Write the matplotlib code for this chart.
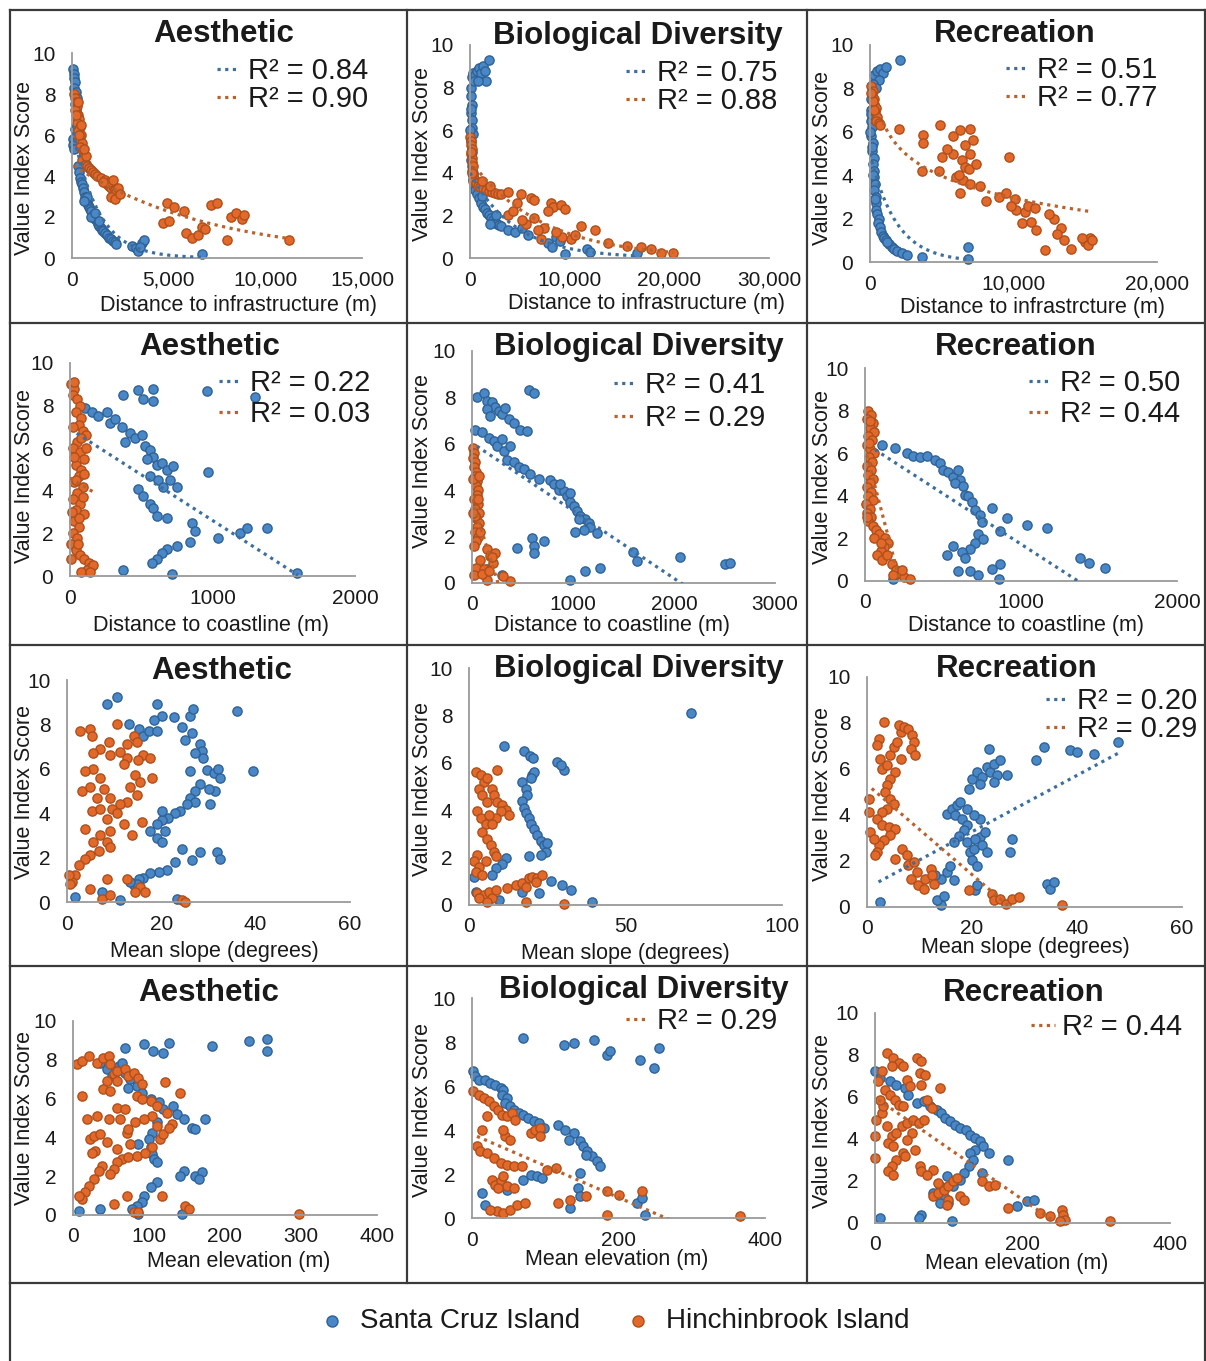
import numpy as np
import matplotlib
matplotlib.use("Agg")
import matplotlib.pyplot as plt
from matplotlib.lines import Line2D
from matplotlib.ticker import FuncFormatter

plt.rcParams['font.family'] = ['Liberation Sans', 'DejaVu Sans']

W, H = 1206, 1361

# (x, y) points; sc = Santa Cruz Island, hi = Hinchinbrook Island
# ---- row 1: distance to infrastructure (m)
aes_infra_sc = [(50, 9.2), (80, 9.0), (120, 8.8), (150, 8.6), (100, 8.3), (200, 8.1), (250, 7.8), (180, 7.5),
                (220, 7.2), (260, 7.0), (300, 6.7), (150, 6.3), (60, 5.8), (30, 5.5), (100, 5.3), (200, 6.0),
                (250, 6.5), (300, 4.5), (350, 4.2), (400, 3.9), (450, 3.7), (500, 3.6), (550, 3.4), (600, 3.2),
                (650, 3.0), (700, 2.9), (750, 2.8), (800, 2.7), (850, 2.6), (900, 2.5), (950, 2.4), (1000, 2.3),
                (1100, 2.1), (1150, 2.0), (1200, 1.9), (1300, 1.8), (1350, 1.65), (1400, 1.55), (1500, 1.45),
                (1550, 1.35), (1600, 1.3), (1700, 1.2), (1800, 1.1), (1900, 1.0), (2000, 0.95), (2100, 0.85),
                (2200, 0.8), (2250, 0.7), (1000, 2.0), (1200, 2.2), (800, 3.0), (600, 2.8), (1400, 1.8),
                (3100, 0.6), (3300, 0.5), (3400, 0.35), (3600, 0.75), (3700, 0.9), (3500, 0.55), (6700, 0.2)]
aes_infra_hi = [(100, 8.0), (150, 7.8), (200, 7.6), (250, 7.4), (180, 7.2), (300, 7.0), (350, 6.8), (250, 6.6),
                (400, 6.4), (300, 6.2), (450, 6.0), (350, 5.8), (500, 5.6), (400, 5.4), (550, 5.2), (600, 5.0),
                (500, 4.8), (700, 4.6), (800, 4.5), (900, 4.4), (1000, 4.3), (1100, 4.2), (1200, 4.1), (1300, 4.0),
                (700, 5.0), (600, 5.3), (200, 7.0), (350, 6.0), (450, 6.5), (300, 7.6), (1500, 3.9), (1700, 3.8),
                (1800, 3.6), (1900, 3.5), (2000, 3.4), (2100, 3.5), (2200, 3.3), (2300, 3.2), (2400, 3.4),
                (2000, 3.0), (2200, 2.9), (1900, 3.7), (2500, 3.1), (1600, 3.7), (2100, 3.8),
                (4900, 2.7), (5300, 2.5), (5800, 2.3), (4700, 1.7), (5000, 1.8), (5900, 1.2), (6200, 1.0),
                (6500, 1.1), (6700, 1.5), (6900, 1.4), (7200, 2.6), (7500, 2.7), (8000, 0.9), (8200, 2.0),
                (8500, 2.2), (8800, 1.9), (8900, 2.1), (11200, 0.9)]
bio_infra_sc = [(100, 8.0), (150, 7.6), (200, 7.2), (120, 6.8), (250, 6.5), (180, 6.1), (300, 5.8), (100, 5.5),
                (200, 5.0), (150, 4.6), (250, 4.3), (300, 4.0), (350, 3.7), (400, 3.4), (500, 3.2), (50, 6.0),
                (80, 7.0), (200, 8.5), (300, 8.7), (500, 8.6), (700, 8.8), (900, 8.9), (1100, 8.7), (1300, 9.0),
                (1500, 8.8), (1600, 8.3), (1900, 9.3), (400, 8.3), (800, 8.3), (700, 3.0), (900, 2.8), (1100, 2.6),
                (1300, 2.4), (1500, 2.3), (1700, 2.1), (1900, 2.0), (2100, 1.9), (2300, 1.8), (2500, 1.7),
                (2700, 1.6), (2900, 1.55), (3100, 1.5), (2000, 1.6), (2600, 2.0), (1200, 2.9), (3800, 1.3),
                (4500, 1.2), (5200, 1.4), (5800, 1.1), (7800, 0.7), (8200, 0.5), (8600, 1.0), (9000, 0.8),
                (9500, 0.2), (11700, 0.4), (12000, 0.3), (16800, 0.25)]
bio_infra_hi = [(50, 5.7), (100, 5.5), (150, 5.3), (200, 5.1), (120, 4.9), (250, 4.7), (180, 4.5), (300, 4.3),
                (220, 4.1), (350, 3.9), (400, 3.7), (300, 3.6), (80, 5.0), (200, 4.0), (600, 3.5), (800, 3.4),
                (1000, 3.35), (1300, 3.3), (1600, 3.2), (1900, 3.15), (2200, 3.1), (2500, 3.05), (2800, 3.0),
                (3100, 3.0), (1200, 3.6), (2000, 3.4), (3800, 3.1), (4700, 2.6), (5100, 3.0), (6100, 2.8),
                (6400, 2.7), (3800, 2.0), (5600, 1.6), (6400, 1.9), (7400, 1.4), (7100, 0.9), (8100, 2.6),
                (8300, 2.4), (9100, 2.5), (9500, 2.3), (9200, 1.0), (10100, 0.9), (11100, 1.5), (12500, 1.3),
                (13800, 0.7), (15800, 0.55), (17200, 0.5), (18200, 0.4), (19200, 0.25), (20400, 0.25),
                (4300, 2.2), (6800, 1.3), (8600, 1.2), (10500, 1.1), (7800, 2.2), (5200, 1.8)]
rec_infra_sc = [(300, 8.6), (500, 8.8), (700, 8.9), (900, 8.7), (1100, 9.0), (600, 8.4), (200, 8.2), (2100, 9.3),
                (400, 8.0), (50, 7.5), (100, 7.0), (80, 6.5), (150, 6.2), (100, 5.8), (200, 5.5), (150, 5.1),
                (250, 4.8), (200, 4.5), (300, 4.2), (250, 3.9), (350, 3.6), (300, 3.3), (400, 3.0), (450, 2.7),
                (400, 2.4), (500, 2.2), (600, 2.0), (550, 1.8), (700, 1.6), (50, 6.8), (120, 5.3), (220, 4.0),
                (350, 2.9), (0, 6.0), (800, 1.4), (900, 1.2), (1000, 1.1), (1100, 1.0), (1300, 0.85), (1500, 0.7),
                (1700, 0.6), (1900, 0.5), (2200, 0.4), (2600, 0.3), (1200, 0.9), (3600, 0.25), (6850, 0.7),
                (6850, 0.15)]
rec_infra_hi = [(100, 8.1), (200, 7.9), (150, 7.7), (300, 7.5), (250, 7.3), (400, 7.1), (350, 6.9), (500, 6.7),
                (450, 6.5), (600, 6.4), (700, 6.3), (200, 7.4), (300, 7.0), (50, 7.8), (2000, 6.15), (4900, 6.3),
                (3700, 5.85), (3700, 5.5), (3600, 4.2), (5000, 4.85), (5800, 5.8), (6300, 6.1), (7000, 6.15),
                (5800, 5.0), (6400, 4.7), (6600, 4.4), (6000, 3.9), (6500, 3.8), (7000, 3.6), (6300, 3.2),
                (6900, 4.3), (7000, 5.0), (7700, 3.5), (8100, 2.8), (9000, 3.0), (9500, 3.2), (9700, 4.85),
                (6600, 5.4), (5400, 5.2), (7200, 5.6), (6200, 4.0), (4800, 4.2), (7400, 4.5), (10100, 2.9),
                (10200, 2.4), (10600, 1.8), (10800, 2.3), (11000, 2.6), (11200, 1.85), (11600, 1.46),
                (12200, 0.55), (12800, 2.0), (13300, 1.55), (13500, 1.0), (14000, 0.6), (15000, 0.9),
                (15300, 1.1), (15200, 0.8), (15500, 1.0), (11500, 2.5), (12500, 2.2), (13000, 1.3),
                (14800, 1.1), (9800, 2.6)]

# ---- row 2: distance to coastline (m)
aes_coast_sc = [(374, 8.5), (480, 8.75), (515, 8.3), (585, 8.8), (585, 8.2), (960, 8.7), (1300, 8.4), (105, 7.9),
                (152, 7.7), (199, 7.5), (257, 7.7), (281, 7.2), (316, 7.35), (363, 7.0), (386, 6.3), (421, 6.7),
                (456, 6.5), (503, 6.6), (526, 6.1), (561, 5.9), (585, 5.6), (538, 5.5), (608, 5.2), (643, 5.3),
                (678, 5.0), (725, 5.15), (561, 4.7), (620, 4.5), (655, 4.2), (702, 4.5), (748, 4.2), (480, 4.1),
                (515, 3.75), (561, 3.4), (585, 3.2), (608, 2.8), (678, 2.7), (970, 4.9), (854, 2.5), (877, 2.1),
                (842, 1.6), (748, 1.4), (678, 1.25), (643, 1.1), (608, 0.8), (573, 0.6), (374, 0.3), (713, 0.1),
                (1040, 1.8), (1193, 2.0), (1240, 2.25), (1380, 2.25), (1590, 0.15)]
aes_coast_hi = [(10, 9.0), (30, 8.8), (20, 8.5), (50, 8.3), (70, 8.0), (40, 7.7), (80, 7.4), (60, 7.1), (90, 6.8),
                (110, 6.6), (50, 6.3), (20, 6.0), (70, 5.8), (100, 5.5), (40, 5.2), (80, 5.0), (60, 4.7), (30, 4.4),
                (90, 4.2), (50, 3.9), (20, 3.6), (70, 3.4), (40, 3.1), (100, 2.9), (30, 2.6), (60, 2.3), (20, 2.0),
                (50, 1.8), (10, 1.5), (40, 1.2), (70, 1.0), (100, 0.8), (130, 0.6), (150, 0.4), (120, 0.3),
                (160, 0.5), (80, 0.2), (10, 0.8), (30, 5.6), (90, 3.7), (60, 2.7), (110, 6.0), (20, 7.0),
                (40, 4.5), (75, 6.5), (100, 4.8), (15, 3.0), (55, 1.5), (140, 0.2), (25, 9.1)]
bio_coast_sc = [(49, 8.0), (115, 8.2), (148, 7.85), (198, 7.8), (231, 7.6), (264, 7.4), (297, 7.3), (330, 7.55),
                (363, 7.05), (412, 6.9), (478, 6.6), (544, 6.55), (560, 8.3), (610, 8.2), (148, 7.5), (181, 7.2),
                (33, 6.6), (99, 6.5), (165, 6.25), (214, 6.1), (247, 5.9), (313, 5.7), (346, 5.3), (412, 5.2),
                (462, 5.0), (511, 4.9), (577, 4.7), (659, 4.5), (775, 4.45), (808, 4.25), (857, 4.0), (907, 3.95),
                (940, 3.75), (972, 3.5), (1005, 3.3), (1039, 3.1), (1071, 2.9), (1121, 2.75), (1154, 2.6),
                (1170, 2.4), (1104, 2.3), (1022, 2.2), (1236, 2.15), (873, 4.25), (972, 3.9), (1055, 2.75),
                (297, 6.2), (379, 5.9), (445, 1.5), (593, 1.95), (610, 1.6), (610, 1.3), (709, 1.8), (972, 0.15),
                (1121, 0.5), (1269, 0.65), (1599, 1.35), (1632, 0.95), (2061, 1.1), (2506, 0.8), (2555, 0.85),
                (148, 0.6), (297, 0.35)]
bio_coast_hi = [(10, 5.8), (20, 5.6), (5, 5.4), (30, 5.2), (15, 5.0), (40, 4.8), (25, 4.6), (50, 4.4), (35, 4.2),
                (60, 4.0), (45, 3.8), (20, 3.6), (55, 3.4), (30, 3.2), (65, 3.0), (40, 2.8), (70, 2.6), (50, 2.4),
                (30, 2.2), (60, 2.0), (40, 1.8), (20, 1.6), (10, 4.5), (60, 3.6), (25, 2.9), (80, 2.2), (70, 4.6),
                (5, 3.0), (150, 1.45), (180, 1.15), (230, 1.3), (80, 1.0), (35, 0.65), (15, 0.35), (150, 0.15),
                (380, 0.07), (310, 0.3), (210, 0.85), (115, 0.6), (200, 1.1), (100, 0.4), (170, 0.5)]
rec_coast_sc = [(107, 6.4), (193, 6.25), (267, 6.0), (310, 5.85), (353, 5.8), (396, 5.85), (449, 5.7), (481, 5.55),
                (503, 5.2), (535, 5.1), (567, 4.9), (599, 5.2), (610, 4.75), (578, 4.6), (631, 4.45), (642, 4.05),
                (663, 4.0), (685, 3.7), (706, 3.35), (738, 3.1), (749, 2.75), (813, 3.45), (909, 2.95),
                (1037, 2.65), (1166, 2.5), (866, 2.35), (727, 2.2), (759, 1.95), (706, 1.8), (674, 1.5),
                (620, 1.35), (567, 1.65), (524, 1.2), (642, 1.1), (599, 0.47), (674, 0.47), (727, 0.3),
                (813, 0.55), (866, 0.8), (856, 0.08), (182, 0.08), (1380, 1.1), (1433, 0.86), (1540, 0.62)]
rec_coast_hi = [(20, 8.0), (40, 7.8), (10, 7.6), (50, 7.4), (30, 7.2), (60, 7.0), (20, 6.8), (45, 6.6), (10, 6.4),
                (35, 6.2), (55, 6.0), (25, 5.8), (45, 5.6), (15, 5.4), (40, 5.2), (20, 5.0), (50, 4.8), (30, 4.6),
                (10, 4.4), (40, 4.2), (20, 4.0), (50, 3.8), (5, 3.6), (30, 3.4), (10, 3.2), (40, 3.0), (20, 2.8),
                (50, 2.6), (70, 2.4), (90, 2.2), (130, 2.0), (150, 1.8), (120, 1.6), (100, 1.4), (80, 1.2),
                (110, 1.0), (140, 1.2), (170, 0.8), (200, 0.5), (230, 0.35), (250, 0.2), (290, 0.1), (240, 0.5),
                (180, 0.3), (60, 2.0), (25, 6.5), (15, 3.0), (35, 7.5), (100, 1.8)]

# ---- row 3: mean slope (degrees)
aes_slope_sc = [(8.5, 8.9), (10.6, 9.25), (13.1, 8.0), (15.2, 7.8), (16.2, 7.5), (17.3, 7.7), (19.1, 8.9),
                (20.1, 8.4), (18.4, 8.2), (19.1, 7.7), (22.6, 8.35), (24.4, 7.9), (25.1, 7.3), (26.1, 8.4),
                (26.8, 8.7), (26.5, 7.6), (28.2, 7.1), (28.6, 6.8), (28.9, 6.5), (27.2, 6.7), (26.1, 5.9),
                (29.6, 5.95), (31.1, 5.8), (32.1, 6.0), (32.5, 5.6), (31.4, 5.0), (30.0, 5.1), (28.2, 5.3),
                (27.2, 5.0), (26.1, 4.7), (27.2, 4.5), (25.4, 4.4), (24.0, 4.1), (22.9, 4.0), (21.5, 3.8),
                (20.1, 3.7), (19.1, 3.5), (17.6, 3.2), (19.1, 2.9), (20.1, 2.7), (20.8, 3.2), (20.1, 4.1),
                (30.4, 4.4), (36.0, 8.6), (39.5, 5.9), (31.8, 2.25), (32.5, 1.95), (28.2, 2.25), (26.5, 1.9),
                (24.4, 2.4), (22.9, 1.8), (21.2, 1.45), (19.4, 1.35), (17.6, 1.3), (16.2, 1.1), (15.2, 1.05),
                (14.1, 0.75), (14.8, 0.8), (13.4, 0.9), (23.3, 0.15), (11.3, 0.08), (7.4, 0.45), (1.8, 0.22)]
aes_slope_hi = [(2.8, 7.7), (4.9, 7.8), (5.3, 7.5), (8.8, 7.2), (10.6, 8.0), (7.1, 6.9), (5.6, 6.7), (9.2, 6.6),
                (11.3, 6.75), (12.7, 7.1), (14.1, 7.5), (14.8, 7.2), (16.2, 6.6), (17.6, 6.5), (18.0, 5.6),
                (15.0, 6.4), (12.7, 6.5), (12.0, 6.2), (14.5, 5.7), (13.4, 5.2), (15.5, 5.4), (14.8, 4.8),
                (12.7, 4.5), (11.3, 4.4), (9.5, 4.2), (8.5, 3.75), (10.6, 4.0), (12.0, 3.5), (9.2, 4.7),
                (7.8, 5.1), (7.1, 5.6), (5.6, 6.0), (3.9, 5.9), (3.2, 5.0), (4.9, 5.2), (6.4, 4.7), (5.3, 4.1),
                (7.1, 4.2), (3.9, 3.3), (5.6, 2.7), (7.1, 3.0), (8.5, 2.7), (9.2, 3.2), (13.8, 3.0), (15.9, 3.6),
                (9.2, 2.5), (6.7, 2.3), (4.9, 2.1), (3.9, 1.95), (2.5, 1.65), (1.8, 1.2), (1.1, 0.9), (0.4, 1.2),
                (8.5, 1.05), (12.7, 1.05), (4.9, 0.6), (7.4, 0.15), (9.2, 0.3), (15.5, 0.68), (16.6, 0.45),
                (14.5, 0.45), (24.4, 0.08), (25.1, 0.0), (0.7, 0.8)]
bio_slope_sc = [(70.8, 8.1), (11.2, 6.7), (17.6, 6.5), (19.5, 6.3), (20.5, 6.2), (28.2, 6.05), (30.3, 5.7),
                (29.3, 5.9), (17.0, 5.2), (18.1, 4.9), (18.6, 4.65), (20.2, 5.5), (20.7, 5.6), (19.7, 5.35),
                (17.0, 4.4), (17.6, 4.1), (18.1, 3.9), (19.2, 3.65), (19.7, 3.4), (20.7, 3.2), (21.8, 2.95),
                (22.9, 2.7), (23.9, 2.55), (24.5, 2.25), (22.9, 2.1), (25.0, 2.6), (19.2, 2.05), (11.7, 2.0),
                (10.6, 1.75), (8.5, 1.55), (7.4, 1.27), (1.6, 1.2), (2.1, 0.56), (9.6, 0.2), (17.0, 0.56),
                (22.3, 0.5), (26.1, 1.0), (29.8, 0.85), (32.5, 0.63), (39.4, 0.14)]
bio_slope_hi = [(2.1, 5.6), (3.7, 5.5), (4.8, 5.2), (3.2, 4.9), (4.3, 4.65), (5.9, 4.35), (2.7, 3.95), (3.7, 3.65),
                (5.3, 3.4), (4.3, 3.1), (5.9, 2.8), (6.9, 2.55), (8.0, 2.25), (8.5, 2.05), (2.7, 2.1), (1.6, 1.85),
                (3.2, 1.6), (2.1, 1.4), (4.3, 1.27), (5.3, 1.85), (9.0, 5.7), (7.4, 4.9), (8.0, 4.65), (9.0, 4.35),
                (10.6, 4.2), (11.7, 4.0), (12.8, 3.8), (10.1, 3.95), (8.5, 3.65), (7.4, 3.4), (6.4, 3.8),
                (5.9, 5.35), (2.7, 0.5), (4.8, 0.42), (6.4, 0.56), (7.4, 0.28), (8.5, 0.63), (12.2, 0.7),
                (14.9, 0.85), (17.0, 0.92), (19.2, 1.13), (20.2, 1.2), (21.8, 1.13), (23.4, 1.27), (18.1, 0.77),
                (21.3, 0.99), (18.1, 0.14), (30.3, 0.03), (3.2, 0.28), (5.9, 0.14)]
rec_slope_sc = [(2.5, 0.22), (14.0, 0.07), (13.3, 0.29), (14.6, 0.5), (14.0, 1.23), (15.2, 1.52), (15.9, 1.8),
                (16.5, 1.16), (15.2, 4.06), (16.2, 4.28), (17.1, 4.42), (17.8, 4.57), (16.8, 4.0), (18.1, 3.84),
                (19.1, 3.55), (18.4, 3.33), (17.5, 3.1), (16.5, 2.83), (19.1, 2.83), (19.7, 2.4), (20.3, 2.54),
                (20.0, 2.03), (21.0, 1.8), (21.6, 3.04), (20.6, 2.97), (21.9, 2.68), (22.9, 2.39), (22.5, 3.26),
                (21.6, 3.84), (20.3, 3.99), (19.1, 4.28), (19.4, 5.14), (20.0, 5.58), (21.0, 5.87), (21.9, 5.65),
                (22.9, 6.09), (23.5, 5.87), (24.1, 6.23), (25.4, 6.38), (24.8, 5.72), (24.1, 5.43), (21.6, 5.36),
                (23.2, 6.88), (26.7, 5.72), (27.6, 2.97), (27.3, 2.39), (32.1, 6.38), (33.7, 6.96), (38.7, 6.81),
                (40.0, 6.74), (43.2, 6.67), (47.9, 7.17), (34.3, 1.01), (34.9, 0.8), (35.6, 1.09), (20.6, 0.72),
                (21.0, 0.94), (13.0, 1.38)]
rec_slope_hi = [(3.2, 8.04), (2.2, 7.32), (1.9, 7.03), (2.5, 6.45), (2.9, 6.01), (3.8, 6.16), (4.4, 6.59),
                (5.1, 6.96), (5.7, 7.17), (6.4, 7.61), (6.0, 7.9), (7.0, 7.83), (7.9, 7.75), (8.6, 7.46),
                (8.9, 7.17), (8.3, 6.88), (9.2, 6.59), (6.4, 6.45), (5.4, 5.87), (4.4, 5.58), (3.8, 5.29),
                (3.5, 5.0), (4.4, 4.71), (5.1, 4.49), (3.8, 4.28), (2.9, 4.13), (1.9, 3.84), (2.9, 3.55),
                (4.1, 3.48), (5.4, 3.41), (4.4, 3.12), (3.2, 2.9), (2.2, 2.68), (1.9, 2.39), (0.3, 4.13),
                (0.3, 4.71), (0.6, 3.26), (1.3, 2.97), (1.6, 2.25), (5.4, 2.1), (6.7, 2.54), (7.6, 2.25),
                (7.9, 1.81), (8.9, 1.96), (9.5, 1.52), (8.3, 1.23), (9.8, 0.94), (11.1, 1.23), (12.1, 1.67),
                (12.4, 1.38), (12.7, 1.01), (10.8, 0.8), (19.4, 0.72), (23.8, 0.58), (24.1, 0.29), (25.4, 0.36),
                (26.4, 0.14), (27.6, 0.36), (28.9, 0.43), (37.1, 0.07)]

# ---- row 4: mean elevation (m)
aes_elev_sc = [(7.5, 0.22), (36, 0.31), (69, 8.63), (93, 8.8), (105, 8.46), (119, 8.37), (126, 8.88), (183, 8.71),
               (231, 8.97), (255, 9.06), (255, 8.46), (36, 7.86), (45, 7.51), (51, 7.17), (60, 7.68), (64, 7.86),
               (69, 7.34), (75, 7.0), (73, 6.57), (84, 6.66), (91, 6.31), (102, 5.97), (113, 5.8), (119, 5.45),
               (132, 5.63), (137, 5.2), (146, 4.94), (157, 4.51), (161, 4.43), (174, 4.94), (111, 4.77),
               (104, 4.25), (100, 3.91), (102, 3.48), (104, 3.14), (106, 2.88), (111, 2.71), (86, 3.65),
               (146, 2.28), (141, 2.02), (161, 2.02), (170, 2.2), (166, 1.85), (111, 1.68), (102, 1.42),
               (93, 0.99), (91, 0.65), (84, 0.48), (78, 0.31), (86, 0.05), (143, 0.05)]
aes_elev_hi = [(5, 7.77), (12, 7.94), (21, 8.2), (32, 7.86), (40, 8.11), (47, 8.2), (49, 7.77), (54, 7.26),
               (58, 6.91), (45, 6.91), (40, 6.48), (49, 6.4), (58, 7.43), (69, 7.51), (73, 7.17), (80, 7.34),
               (86, 7.08), (91, 6.74), (84, 6.14), (91, 5.97), (102, 5.88), (111, 5.63), (124, 5.28), (130, 4.68),
               (121, 6.83), (141, 6.31), (12, 6.14), (18, 4.94), (23, 3.91), (27, 4.08), (36, 4.17), (45, 3.74),
               (29, 3.31), (25, 3.22), (38, 2.54), (34, 2.28), (27, 1.85), (21, 1.51), (16, 1.17), (12, 0.82),
               (7.5, 0.99), (32, 5.11), (47, 4.94), (58, 5.54), (62, 4.94), (69, 5.45), (71, 4.25), (73, 4.43),
               (82, 4.77), (75, 3.65), (58, 3.4), (64, 2.88), (58, 2.71), (54, 2.37), (49, 2.11), (73, 3.0),
               (84, 3.05), (95, 3.22), (104, 3.48), (115, 3.91), (119, 4.17), (126, 4.51), (111, 4.6),
               (104, 5.11), (93, 4.94), (54, 0.57), (71, 0.99), (80, 0.14), (86, 0.14), (117, 0.99), (148, 0.48),
               (152, 0.31), (297, 0.05)]
bio_elev_sc = [(2, 6.67), (4.5, 6.44), (9, 6.29), (18, 6.29), (25, 6.14), (32, 6.06), (39, 5.91), (43, 5.83),
               (41, 5.6), (48, 5.45), (45, 5.23), (52, 5.08), (57, 4.92), (64, 4.77), (70, 4.7), (77, 4.55),
               (84, 4.39), (91, 4.32), (98, 4.09), (118, 4.24), (127, 4.02), (139, 3.86), (132, 3.56), (148, 3.48),
               (152, 3.26), (157, 3.03), (164, 2.8), (170, 2.58), (175, 2.35), (155, 2.88), (70, 8.18), (125, 7.88),
               (139, 7.95), (166, 8.11), (184, 7.42), (189, 7.58), (230, 7.2), (255, 7.73), (248, 6.82),
               (14, 1.14), (18, 0.61), (48, 1.29), (70, 1.74), (80, 1.97), (89, 1.89), (95, 1.82), (148, 2.05),
               (145, 1.36), (134, 0.45), (148, 0.98), (225, 0.68), (232, 0.91), (236, 0.15)]
bio_elev_hi = [(2, 5.76), (9, 5.6), (16, 5.45), (23, 5.3), (30, 5.08), (36, 4.92), (41, 4.7), (48, 4.62), (55, 4.77),
               (59, 4.47), (20, 4.62), (14, 4.02), (7, 3.26), (11, 3.03), (20, 2.95), (30, 2.73), (39, 2.5),
               (48, 2.42), (57, 2.35), (68, 2.35), (80, 3.86), (86, 4.02), (93, 4.09), (93, 3.71), (45, 3.71),
               (52, 3.56), (43, 4.02), (27, 1.74), (32, 1.52), (39, 1.67), (48, 1.44), (36, 1.36), (43, 1.89),
               (57, 1.36), (102, 2.2), (114, 2.27), (118, 0.68), (134, 0.83), (155, 0.98), (184, 1.21),
               (184, 0.15), (200, 1.06), (232, 1.21), (34, 0.3), (43, 0.23), (52, 0.38), (61, 0.61), (73, 0.68),
               (366, 0.08), (25, 0.38)]
rec_elev_sc = [(0, 7.22), (7, 6.9), (20, 6.75), (29, 6.59), (41, 6.43), (45, 6.11), (57, 5.71), (66, 5.79),
               (75, 5.56), (84, 5.4), (90, 5.24), (95, 5.0), (102, 4.84), (108, 4.68), (115, 4.52), (124, 4.44),
               (129, 4.21), (136, 4.05), (142, 3.89), (147, 3.65), (154, 3.33), (136, 3.49), (129, 3.33),
               (133, 3.02), (127, 2.7), (120, 2.38), (115, 2.06), (106, 1.75), (145, 2.38), (181, 3.02),
               (88, 1.75), (79, 1.43), (97, 2.22), (95, 1.19), (99, 0.95), (104, 0.08), (63, 0.4), (59, 0.24),
               (7, 0.24), (192, 0.79), (206, 1.03), (215, 1.11), (88, 0.95)]
rec_elev_hi = [(16, 8.1), (25, 7.86), (32, 7.62), (38, 7.46), (23, 7.46), (9, 7.22), (4.5, 6.75), (14, 6.35),
               (20, 6.11), (27, 5.87), (32, 5.63), (38, 5.56), (43, 6.83), (48, 6.51), (57, 7.86), (63, 7.7),
               (61, 7.14), (63, 6.59), (68, 7.06), (88, 6.43), (2, 4.92), (0, 4.13), (0, 3.1), (9, 5.24),
               (16, 4.6), (23, 4.13), (18, 3.81), (25, 3.65), (29, 4.29), (36, 4.6), (43, 4.76), (52, 4.92),
               (59, 4.76), (66, 4.92), (50, 4.29), (43, 3.97), (54, 3.49), (38, 3.33), (29, 3.02), (23, 2.7),
               (18, 2.46), (25, 2.3), (41, 3.17), (70, 5.87), (77, 5.48), (61, 2.7), (63, 2.46), (79, 2.54),
               (70, 2.3), (86, 1.9), (79, 1.27), (86, 1.43), (93, 1.59), (99, 1.75), (106, 1.98), (111, 2.14),
               (115, 1.27), (120, 1.11), (99, 1.11), (97, 0.87), (145, 1.98), (154, 1.75), (163, 1.83),
               (181, 0.71), (224, 0.48), (237, 0.32), (253, 0.63), (255, 0.4), (258, 0.16), (251, 0.08),
               (319, 0.08), (11, 5.56), (7, 5.87)]

# trend lines: (series, type, a, b, x from, x to, R²)  exp: a*e^(bx), log: a+b*ln x, lin: a+b*x
trend_aes_infra = [('sc', 'exp', 6.5, -7.7e-4, 0, 6700, '0.84'), ('hi', 'exp', 4.57, -1.4e-4, 100, 11200, '0.90')]
trend_bio_infra = [('sc', 'exp', 4.0, -2.2e-4, 0, 16800, '0.75'), ('hi', 'exp', 4.6, -1.4e-4, 50, 20400, '0.88')]
trend_rec_infra = [('sc', 'exp', 5.0, -5.5e-4, 0, 6850, '0.51'), ('hi', 'log', 16.37, -1.457, 900, 15500, '0.77')]
trend_aes_coast = [('sc', 'lin', 6.9, -0.00429, 47, 1600, '0.22'), ('hi', 'lin', 4.6, -0.004, 0, 160, '0.03')]
trend_bio_coast = [('sc', 'lin', 6.04, -0.00292, 49, 2560, '0.41'), ('hi', 'lin', 3.6, -0.014, 0, 380, '0.29')]
trend_rec_coast = [('sc', 'lin', 6.47, -0.00474, 64, 1540, '0.50'), ('hi', 'lin', 6.25, -0.028, 0, 290, '0.44')]
trend_aes_slope = []
trend_bio_slope = []
trend_rec_slope = [('sc', 'lin', 0.82, 0.1226, 2.2, 48, '0.20'), ('hi', 'lin', 5.33, -0.196, 0.9, 37, '0.29')]
trend_aes_elev = []
trend_bio_elev = [('hi', 'lin', 3.81, -0.0144, 6.8, 366, '0.29')]
trend_rec_elev = [('hi', 'lin', 5.98, -0.0243, 4.5, 319, '0.44')]

titles = ['Aesthetic', 'Biological Diversity', 'Recreation']
xlabels = ['Distance to infrastructure (m)', 'Distance to infrastructure (m)', 'Distance to infrastrcture (m)',
           'Distance to coastline (m)', 'Distance to coastline (m)', 'Distance to coastline (m)',
           'Mean slope (degrees)', 'Mean slope (degrees)', 'Mean slope (degrees)',
           'Mean elevation (m)', 'Mean elevation (m)', 'Mean elevation (m)']
xticks = [[0, 5000, 10000, 15000], [0, 10000, 20000, 30000], [0, 10000, 20000],
          [0, 1000, 2000], [0, 1000, 2000, 3000], [0, 1000, 2000],
          [0, 20, 40, 60], [0, 50, 100], [0, 20, 40, 60],
          [0, 100, 200, 300, 400], [0, 200, 400], [0, 200, 400]]
series_names = ['Santa Cruz Island', 'Hinchinbrook Island']

panels = [
    (aes_infra_sc, aes_infra_hi, trend_aes_infra), (bio_infra_sc, bio_infra_hi, trend_bio_infra),
    (rec_infra_sc, rec_infra_hi, trend_rec_infra), (aes_coast_sc, aes_coast_hi, trend_aes_coast),
    (bio_coast_sc, bio_coast_hi, trend_bio_coast), (rec_coast_sc, rec_coast_hi, trend_rec_coast),
    (aes_slope_sc, aes_slope_hi, trend_aes_slope), (bio_slope_sc, bio_slope_hi, trend_bio_slope),
    (rec_slope_sc, rec_slope_hi, trend_rec_slope), (aes_elev_sc, aes_elev_hi, trend_aes_elev),
    (bio_elev_sc, bio_elev_hi, trend_bio_elev), (rec_elev_sc, rec_elev_hi, trend_rec_elev),
]

# layout in pixels: plot box (left, right, bottom, top), title centre, xlabel centre, ylabel centre,
# R² legend (right, top, spacing)
boxes = [(72, 362, 258, 53), (470, 769, 258, 45), (870, 1157, 262, 45),
         (70, 355, 576, 363), (472, 775, 583, 351), (865, 1177, 581, 368),
         (67, 350, 902, 680), (469, 782, 905, 668), (867, 1182, 907, 677),
         (73, 377, 1215, 1021), (472, 765, 1218, 998), (875, 1170, 1223, 1013)]
title_pos = [(224, 34), (638, 36), (1015, 34), (210, 347), (639, 347), (1016, 347),
             (222, 671), (639, 669), (1017, 669), (209, 993), (644, 990), (1024, 993)]
xlab_pos = [(238, 305), (647, 303), (1033, 308), (211, 626), (612, 625), (1026, 626),
            (214, 952), (625, 953), (1025, 947), (239, 1261), (617, 1259), (1017, 1263)]
ylab_pos = [(25, 168), (422, 154), (822, 158), (25, 476), (422, 461), (822, 477),
            (25, 792), (422, 789), (822, 794), (25, 1118), (422, 1110), (822, 1121)]
leg_pos = [(368, 57, 0.0), (777, 59, 0.0), (1157, 56, 0.0), (370, 369, 0.12), (765, 371, 0.18),
           (1180, 369, 0.12), None, None, (1197, 687, 0.0), None, (777, 1007, 0.0), (1182, 1013, 0.0)]

colors = {'sc': '#4A87C6', 'hi': '#E2692A'}
edges = {'sc': '#2F6296', 'hi': '#AE4F1C'}
trend_colors = {'sc': '#3D6F9E', 'hi': '#B8622E'}
text_color = '#1A1A1A'


def fx(x):
    return x / W


def fy(y):
    return 1 - y / H


def trend_values(kind, a, b, x):
    if kind == 'exp':
        return a * np.exp(b * x)
    if kind == 'log':
        return a + b * np.log(x)
    return a + b * x


fig = plt.figure(figsize=(W / 100, H / 100), dpi=100)
fig.patch.set_facecolor('white')

scatter_handles = None
for i, (sc_pts, hi_pts, trends) in enumerate(panels):
    left, right, bottom, top = boxes[i]
    ax = fig.add_axes([fx(left), fy(bottom), (right - left) / W, (bottom - top) / H])
    xt = xticks[i]
    ax.set_xlim(0, xt[-1])
    ax.set_ylim(0, 10)

    handles = []
    for key, pts in (('sc', sc_pts), ('hi', hi_pts)):
        arr = np.array(pts, dtype=float)
        h = ax.scatter(arr[:, 0], arr[:, 1], s=44, color=colors[key], edgecolors=edges[key],
                       linewidths=1.0, zorder=2, clip_on=False)
        handles.append(h)
    if scatter_handles is None:
        scatter_handles = handles

    trend_lines = []
    labels = []
    for key, kind, a, b, x0, x1, r2 in trends:
        xs = np.linspace(x0, x1, 300)
        ln, = ax.plot(xs, trend_values(kind, a, b, xs), color=trend_colors[key], lw=2.3,
                      linestyle=(0, (1, 1.4)), zorder=3)
        trend_lines.append(ln)
        labels.append('R² = ' + r2)

    for side in ('top', 'right'):
        ax.spines[side].set_visible(False)
    for side in ('left', 'bottom'):
        ax.spines[side].set_color('#9A9A9A')
        ax.spines[side].set_linewidth(1.3)
    ax.set_xticks(xt)
    ax.set_yticks([0, 2, 4, 6, 8, 10])
    if i < 3:
        ax.xaxis.set_major_formatter(FuncFormatter(lambda v, p: f'{int(v):,}'))
    ax.tick_params(length=0, labelsize=15, labelcolor=text_color)
    ax.tick_params(axis='y', pad=12)
    ax.tick_params(axis='x', pad=9)
    ax.patch.set_alpha(0)

    if trend_lines:
        rx, ty, spacing = leg_pos[i]
        ax.legend(trend_lines, labels, loc='upper right', bbox_to_anchor=(fx(rx), fy(ty)),
                  bbox_transform=fig.transFigure, frameon=False, fontsize=21, handlelength=0.8,
                  handletextpad=0.25, labelspacing=spacing, borderpad=0, borderaxespad=0,
                  labelcolor=text_color)

    tx, tyy = title_pos[i]
    fig.text(fx(tx), fy(tyy), titles[i % 3], ha='center', va='center', fontsize=22.5,
             fontweight='bold', color=text_color)
    lx, ly = xlab_pos[i]
    fig.text(fx(lx), fy(ly), xlabels[i], ha='center', va='center', fontsize=15.5, color=text_color)
    vx, vy = ylab_pos[i]
    fig.text(fx(vx), fy(vy), 'Value Index Score', ha='center', va='center', rotation=90,
             fontsize=15.5, color=text_color)

# panel frame lines
frame = dict(color='#3A3A3A', lw=1.6, transform=fig.transFigure)
for y in (10, 323, 645, 966, 1283):
    fig.add_artist(Line2D([fx(10), fx(1206)], [fy(y), fy(y)], **frame))
for x in (407, 807):
    fig.add_artist(Line2D([fx(x), fx(x)], [fy(10), fy(1283)], **frame))
fig.add_artist(Line2D([fx(10), fx(10)], [fy(10), fy(1361)], **frame))
fig.add_artist(Line2D([fx(1205), fx(1205)], [fy(10), fy(1361)], **frame))

fig.legend(scatter_handles, series_names, loc='center', bbox_to_anchor=(fx(615), fy(1321)),
           ncol=2, frameon=False, fontsize=20, handlelength=0.8, handletextpad=0.6,
           columnspacing=1.7, scatterpoints=1, markerscale=1.2, labelcolor=text_color)

fig.savefig('out.png', dpi=100, facecolor='white')
